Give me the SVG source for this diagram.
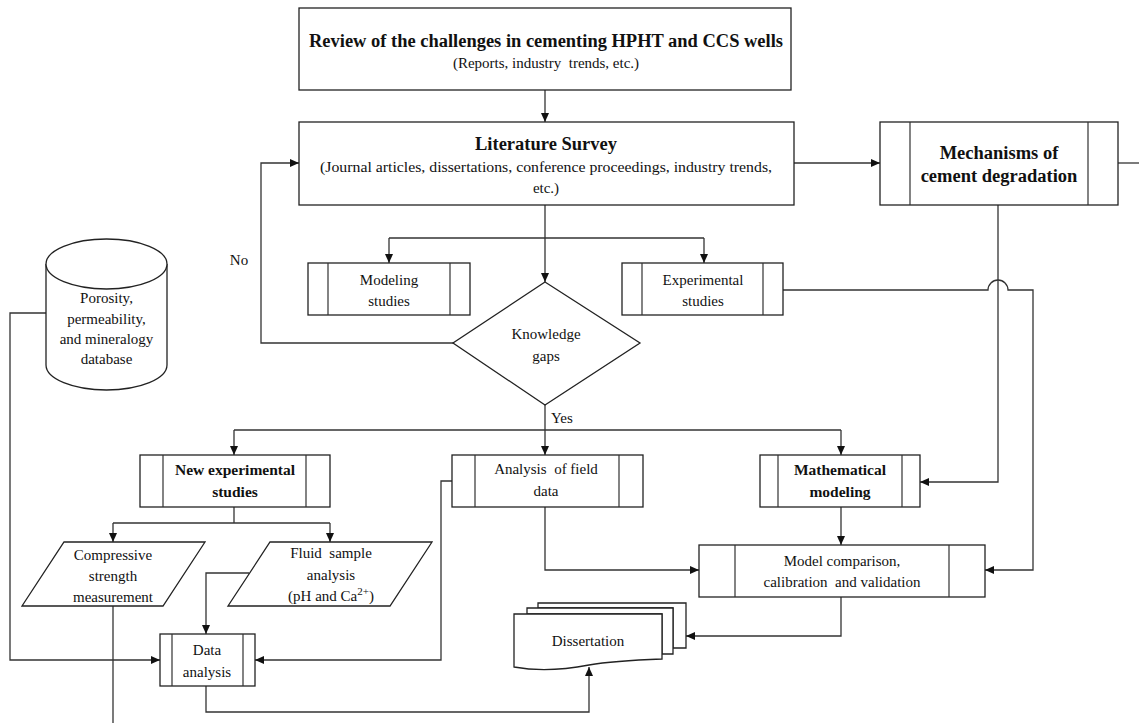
<svg xmlns="http://www.w3.org/2000/svg" width="1139" height="723" viewBox="0 0 1139 723">
<defs>
<marker id="arr" markerUnits="userSpaceOnUse" markerWidth="9" markerHeight="8" refX="9" refY="4" orient="auto">
<path d="M0,0 L9,4 L0,8 z" fill="#111"/>
</marker>
<style>
.box{fill:#fff;stroke:#222;stroke-width:1.3}
.in{stroke:#333;stroke-width:1.2;fill:none}
.c{fill:none;stroke:#333;stroke-width:1.3}
.ca{fill:none;stroke:#333;stroke-width:1.3;marker-end:url(#arr)}
text{font-family:"Liberation Serif","Times New Roman",serif;font-size:15px;fill:#111;text-anchor:middle;white-space:pre}
.b{font-weight:bold;font-size:18.5px}
.bs{font-weight:bold;font-size:15.5px}
</style>
</defs>
<rect width="1139" height="723" fill="#fff"/>

<g id="connectors">
<path class="ca" d="M545,90 V122"/>
<path class="ca" d="M545,205 V282"/>
<path class="c" d="M389,238 H704"/>
<path class="ca" d="M389,238 V263"/>
<path class="ca" d="M704,238 V263"/>
<path class="ca" d="M453,343 H261 V163 H299"/>
<path class="ca" d="M794,163 H880"/>
<path class="c" d="M1118,163 H1139"/>
<path class="ca" d="M998,205 V482 H920"/>
<path class="ca" d="M783,290 H988 A10,10 0 0 1 1008,290 H1033 V570 H985"/>
<path class="ca" d="M545,405 V455"/>
<path class="c" d="M234,430 H841"/>
<path class="ca" d="M234,430 V455"/>
<path class="ca" d="M841,430 V455"/>
<path class="c" d="M234,507 V523"/>
<path class="c" d="M113,523 H330"/>
<path class="ca" d="M113,523 V542"/>
<path class="ca" d="M330,523 V542"/>
<path class="c" d="M113,606 V723"/>
<path class="ca" d="M249,573 H206 V634"/>
<path class="ca" d="M47,313 H10 V660 H160"/>
<path class="ca" d="M452,481 H441 V660 H255"/>
<path class="ca" d="M206,686 V712 H589 V667"/>
<path class="ca" d="M545,507 V570 H699"/>
<path class="ca" d="M841,507 V545"/>
<path class="ca" d="M841,597 V636 H686"/>
</g>

<g id="review">
<rect class="box" x="299" y="8" width="492" height="82"/>
<text class="b" x="546" y="47" textLength="474" lengthAdjust="spacingAndGlyphs">Review of the challenges in cementing HPHT and CCS wells</text>
<text x="546" y="68">(Reports, industry  trends, etc.)</text>
</g>

<g id="literature">
<rect class="box" x="299" y="122" width="495" height="83"/>
<text class="b" x="546" y="150">Literature Survey</text>
<text x="546" y="172" textLength="452" lengthAdjust="spacingAndGlyphs">(Journal articles, dissertations, conference proceedings, industry trends,</text>
<text x="546" y="193">etc.)</text>
</g>

<g id="mechanisms">
<rect class="box" x="880" y="122" width="238" height="83"/>
<path class="in" d="M910,122 V205 M1088,122 V205"/>
<text class="b" x="999" y="159">Mechanisms of</text>
<text class="b" x="999" y="182">cement degradation</text>
</g>

<g id="modeling">
<rect class="box" x="308" y="263" width="162" height="52"/>
<path class="in" d="M328,263 V315 M450,263 V315"/>
<text x="389" y="285">Modeling</text>
<text x="389" y="306">studies</text>
</g>

<g id="experimental">
<rect class="box" x="622" y="263" width="161" height="52"/>
<path class="in" d="M642,263 V315 M763,263 V315"/>
<text x="703" y="285">Experimental</text>
<text x="703" y="306">studies</text>
</g>

<g id="gaps">
<polygon class="box" points="545,282 640,343 545,405 453,343"/>
<text x="546" y="339">Knowledge</text>
<text x="546" y="361">gaps</text>
</g>

<g id="labels">
<text x="239" y="265">No</text>
<text x="551" y="423" style="text-anchor:start">Yes</text>
</g>

<g id="database">
<path class="box" d="M46,264 V365 A60.5,25 0 0 0 167,365 V264"/>
<ellipse class="box" cx="106.5" cy="264" rx="60.5" ry="25"/>
<text x="106.5" y="303">Porosity,</text>
<text x="106.5" y="324">permeability,</text>
<text x="106.5" y="344">and mineralogy</text>
<text x="106.5" y="364">database</text>
</g>

<g id="new-experimental">
<rect class="box" x="140" y="455" width="190" height="52"/>
<path class="in" d="M163,455 V507 M306,455 V507"/>
<text class="bs" x="235" y="475">New experimental</text>
<text class="bs" x="235" y="497">studies</text>
</g>

<g id="field-data">
<rect class="box" x="452" y="455" width="191" height="52"/>
<path class="in" d="M475,455 V507 M619,455 V507"/>
<text x="546" y="474">Analysis  of field</text>
<text x="546" y="496">data</text>
</g>

<g id="mathematical">
<rect class="box" x="760" y="455" width="160" height="52"/>
<path class="in" d="M778,455 V507 M902,455 V507"/>
<text class="bs" x="840" y="475">Mathematical</text>
<text class="bs" x="840" y="497">modeling</text>
</g>

<g id="compressive">
<polygon class="box" points="64,542 205,542 163,606 22,606"/>
<text x="113" y="560">Compressive</text>
<text x="113" y="581">strength</text>
<text x="113" y="602">measurement</text>
</g>

<g id="fluid">
<polygon class="box" points="270,542 432,542 390,606 228,606"/>
<text x="331" y="558">Fluid  sample</text>
<text x="331" y="580">analysis</text>
<text x="331" y="601">(pH and Ca<tspan dy="-6" font-size="11px">2+</tspan><tspan dy="6">)</tspan></text>
</g>

<g id="data-analysis">
<rect class="box" x="160" y="634" width="95" height="52"/>
<path class="in" d="M172,634 V686 M243,634 V686"/>
<text x="207" y="655">Data</text>
<text x="207" y="677">analysis</text>
</g>

<g id="model-comparison">
<rect class="box" x="699" y="545" width="286" height="52"/>
<path class="in" d="M735,545 V597 M949,545 V597"/>
<text x="842" y="566">Model comparison,</text>
<text x="842" y="587">calibration  and validation</text>
</g>

<g id="dissertation">
<path class="box" d="M538,603 H686 V648 H673 V608 H538 Z"/>
<path class="box" d="M527,608 H673 V654 H662 V614 H527 Z"/>
<path class="box" d="M514,614 H662 V659 C636,660 612,661 589,665 C568,669 542,672 514,667 Z"/>
<text x="588" y="646">Dissertation</text>
</g>
</svg>
